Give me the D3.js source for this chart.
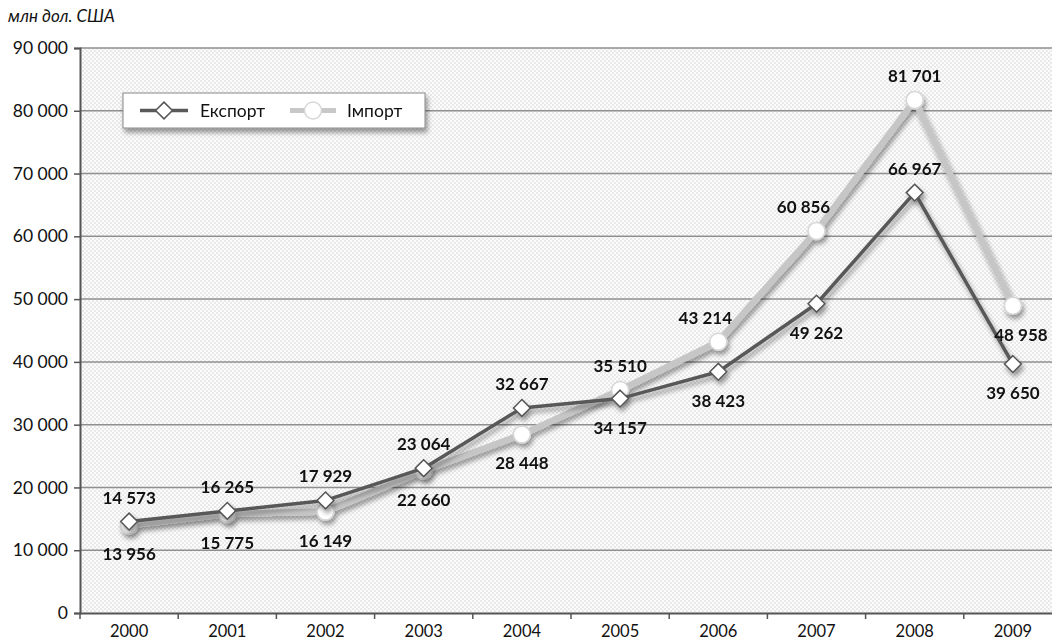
<!DOCTYPE html>
<html><head><meta charset="utf-8">
<script src="https://cdn.jsdelivr.net/npm/d3@7"></script>
<style>body{margin:0;background:#fff}svg{display:block}text{font-family:Lato,"Open Sans",sans-serif}</style>
</head><body><svg id="c" width="1052" height="643"></svg>
<script>
const years = ["2000","2001","2002","2003","2004","2005","2006","2007","2008","2009"];
const exportVals = [14573,16265,17929,23064,32667,34157,38423,49262,66967,39650];
const importVals = [13956,15775,16149,22660,28448,35510,43214,60856,81701,48958];
const exportLabelPos = ["above","above","above","above","above","below","below","below","above","below"];
const importLabelPos = ["below","below","below","below","below","above","aboveleft","aboveleft","above","belowright"];
const yTicks = [0,10000,20000,30000,40000,50000,60000,70000,80000,90000];
const seriesNames = ["Експорт","Імпорт"];
const unitLabel = "млн дол. США";

const svg = d3.select("#c");
const L=80, R=1062, T=48, B=613;
const x = d3.scaleBand().domain(years).range([L,R]);
const y = d3.scaleLinear().domain([0,90000]).range([B,T]);
const fmt = v => d3.format(",")(v).replace(/,/g," ");

const defs = svg.append("defs");
const pat = defs.append("pattern").attr("id","chk").attr("width",4).attr("height",4).attr("patternUnits","userSpaceOnUse");
pat.append("rect").attr("width",4).attr("height",4).attr("fill","#fcfcfc");
pat.append("rect").attr("width",2).attr("height",2).attr("fill","#e9e9e9");
pat.append("rect").attr("x",2).attr("y",2).attr("width",2).attr("height",2).attr("fill","#e9e9e9");
const sh = defs.append("filter").attr("id","sh").attr("x","-10%").attr("y","-10%").attr("width","130%").attr("height","140%");
sh.append("feGaussianBlur").attr("in","SourceAlpha").attr("stdDeviation",2.5);
sh.append("feOffset").attr("dx",2).attr("dy",4).attr("result","b");
sh.append("feComponentTransfer").append("feFuncA").attr("type","linear").attr("slope",0.4);
const m = sh.append("feMerge"); m.append("feMergeNode"); m.append("feMergeNode").attr("in","SourceGraphic");

svg.append("rect").attr("x",L).attr("y",T).attr("width",R-L).attr("height",B-T).attr("fill","url(#chk)");

// grid
svg.append("g").selectAll("line").data(yTicks.filter(d=>d>0)).join("line")
  .attr("x1",L).attr("x2",R).attr("y1",d=>y(d)).attr("y2",d=>y(d))
  .attr("stroke","#8f8f8f").attr("stroke-width",1.5);

// axes
const ya = svg.append("g").attr("transform",`translate(${L},0)`)
  .call(d3.axisLeft(y).tickValues(yTicks).tickFormat(fmt).tickSize(6).tickPadding(6));
ya.select(".domain").attr("stroke","#555").attr("stroke-width",2);
ya.selectAll(".tick line").attr("stroke","#555").attr("stroke-width",1.5);
ya.selectAll("text").attr("font-size",17.5).attr("fill","#111").style("font-family","Lato");

const xa = svg.append("g").attr("transform",`translate(0,${B})`)
  .call(d3.axisBottom(x).tickSize(0).tickPadding(12));
xa.select(".domain").attr("stroke","#555").attr("stroke-width",2);
xa.selectAll("text").attr("font-size",16.5).attr("fill","#111").style("font-family","Lato");
svg.append("g").selectAll("line").data(years).join("line")
  .attr("x1",d=>x(d)).attr("x2",d=>x(d)).attr("y1",B).attr("y2",B+6)
  .attr("stroke","#555").attr("stroke-width",1.5);

svg.append("text").attr("x",8).attr("y",22).attr("font-size",17).attr("font-style","italic").attr("fill","#111").text(unitLabel);

const cx = d => x(d)+x.bandwidth()/2;
const line = d3.line().x((d,i)=>cx(years[i])).y(d=>y(d));

// import series
const gi = svg.append("g").attr("filter","url(#sh)");
gi.append("path").attr("d",line(importVals)).attr("fill","none").attr("stroke","#c6c6c6").attr("stroke-width",6.5).attr("stroke-linejoin","round");
gi.selectAll("circle").data(importVals).join("circle")
  .attr("cx",(d,i)=>cx(years[i])).attr("cy",d=>y(d)).attr("r",8.5)
  .attr("fill","#fff").attr("stroke","#d6d6d6").attr("stroke-width",1.5);

// export series
const ge = svg.append("g").attr("filter","url(#sh)");
ge.append("path").attr("d",line(exportVals)).attr("fill","none").attr("stroke","#595959").attr("stroke-width",3.5).attr("stroke-linejoin","round");
const dia = d3.symbol().type(d3.symbolDiamond2).size(180);
ge.selectAll("path.m").data(exportVals).join("path").attr("class","m")
  .attr("transform",(d,i)=>`translate(${cx(years[i])},${y(d)})`)
  .attr("d",dia()).attr("fill","#fff").attr("stroke","#555").attr("stroke-width",1.5);

function labels(vals,pos){
  const dx = p => p==="aboveleft" ? -13 : (p==="belowright" ? 8 : 0);
  const dy = p => p.startsWith("below") ? 35 : -18;
  svg.append("g").selectAll("text").data(vals).join("text")
    .attr("x",(d,i)=>cx(years[i]) + dx(pos[i]))
    .attr("y",(d,i)=>y(d) + dy(pos[i]))
    .attr("text-anchor","middle").attr("font-size",17).attr("font-weight","bold").attr("fill","#111")
    .text(fmt);
}
labels(exportVals,exportLabelPos);
labels(importVals,importLabelPos);

// legend
const lg = svg.append("g");
lg.append("rect").attr("x",123).attr("y",93).attr("width",302).attr("height",35).attr("fill","#fff").attr("stroke","#888").attr("stroke-width",1).attr("filter","url(#sh)");
lg.append("line").attr("x1",140).attr("x2",188).attr("y1",110.5).attr("y2",110.5).attr("stroke","#595959").attr("stroke-width",3.5);
lg.append("path").attr("transform","translate(164,110.5)").attr("d",dia()).attr("fill","#fff").attr("stroke","#555").attr("stroke-width",1.5);
lg.append("text").attr("x",200).attr("y",116.5).attr("font-size",17.5).attr("fill","#111").text(seriesNames[0]);
lg.append("line").attr("x1",290).attr("x2",336).attr("y1",110.5).attr("y2",110.5).attr("stroke","#c8c8c8").attr("stroke-width",5);
lg.append("circle").attr("cx",313).attr("cy",110.5).attr("r",8.5).attr("fill","#fff").attr("stroke","#d6d6d6").attr("stroke-width",1.5);
lg.append("text").attr("x",347).attr("y",116.5).attr("font-size",17.5).attr("fill","#111").text(seriesNames[1]);
</script></body></html>
